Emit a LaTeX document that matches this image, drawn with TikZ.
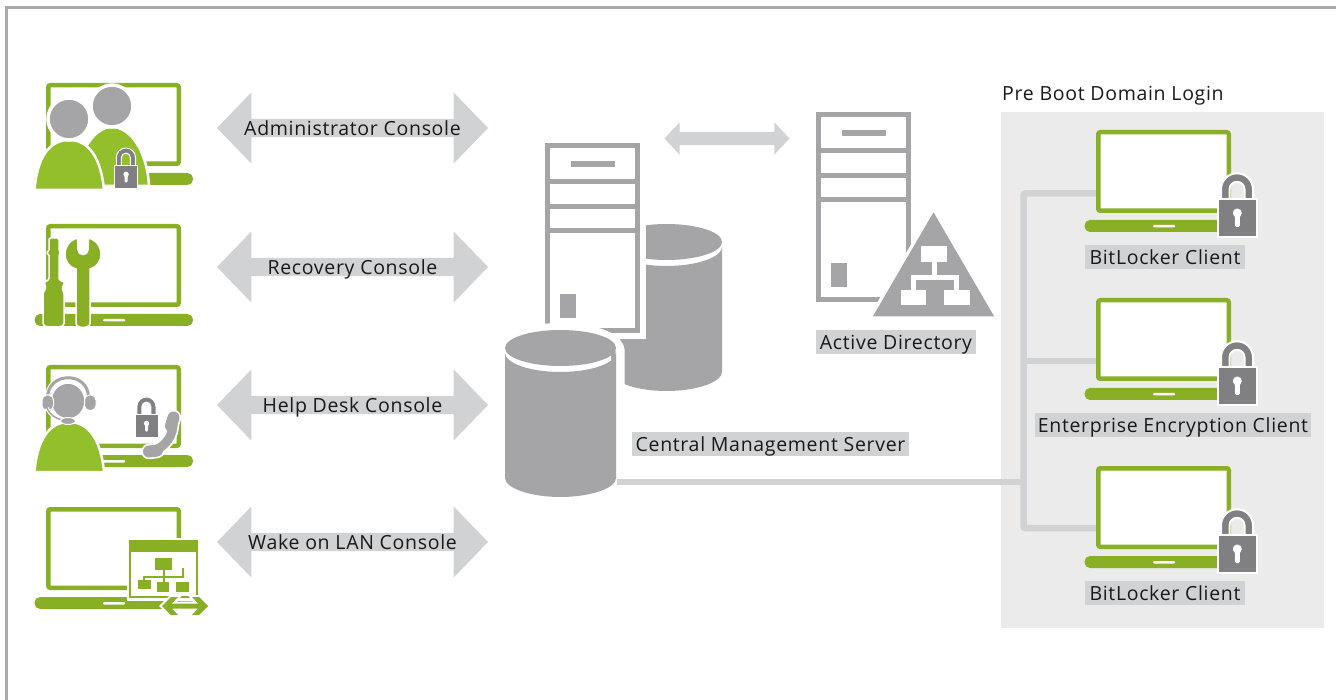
\documentclass[tikz,border=0pt]{standalone}
\usepackage{fontspec}
\setmainfont[LetterSpace=3.5]{Open Sans}
\usetikzlibrary{shapes.arrows}
\definecolor{lapgreen}{HTML}{89B025}
\definecolor{bodygreen}{HTML}{92BF2B}
\definecolor{srvgray}{HTML}{A5A5A8}
\definecolor{lockgray}{HTML}{808083}
\definecolor{linkgray}{HTML}{D1D2D4}
\definecolor{panelgray}{HTML}{EBEBEB}
\definecolor{framegray}{HTML}{A9A9AB}
\tikzset{
	labeltext/.style = {font=\fontsize{19.5}{22}\selectfont, text=black!90, inner sep=0pt, text height=15.5pt, text depth=0.5pt},
	tag/.style = {labeltext, fill=linkgray, minimum height=24pt},
	console/.style = {labeltext, double arrow, fill=linkgray, minimum height=271pt, minimum width=71pt,
		double arrow head extend=23.5pt, double arrow tip angle=92},
	busline/.style = {linkgray, line width=6.5pt, rounded corners=2pt},
	lockedge/.style = {line width=2pt},
	smalllock/.style = {scale=0.6, lockedge/.style={line width=1pt}},
	laptop/.pic = {
		\draw[lapgreen, fill=white, line width=4.5pt, rounded corners=2pt] (2.25,2.25) rectangle (132.75,80.75);
		\fill[lapgreen, rounded corners=5.5pt] (-11.5,90) rectangle (147,102);
		\fill[white, rounded corners=1pt] (57,95) rectangle (79,97.5);
	},
	lock/.pic = {
		\filldraw[draw=white, fill=lockgray, lockedge] (3,1) -- (3,#1) arc[start angle=180, end angle=360, radius=16]
			-- (35,1) -- (26.5,1) -- (26.5,#1) arc[start angle=360, end angle=180, radius=7.5] -- (11.5,1) -- cycle;
		\filldraw[draw=white, fill=lockgray, lockedge] (0,0) rectangle (38.5,38);
		\fill[white] (19.3,14) circle (4.5);
		\fill[white, rounded corners=1.5pt] (16.8,14) rectangle (21.8,28);
	},
	server/.pic = {
		\draw[srvgray, line width=5pt, fill=white] (2.5,2.5) rectangle (92.5,187.5);
		\foreach \y in {38.5,64,87.5}
			\draw[srvgray, line width=5pt] (0,\y) -- (95,\y);
		\fill[srvgray] (26,18) rectangle (70,24);
		\fill[srvgray] (15,151) rectangle (31,175);
	},
	database/.pic = {
		\fill[srvgray] (0,23) -- (0,148) .. controls (0,158) and (25,167) .. (55.5,167) .. controls (86,167) and (111,158) .. (111,148) -- (111,23)
			.. controls (111,33) and (86,42) .. (55.5,42) .. controls (25,42) and (0,33) .. (0,23) -- cycle;
		\fill[srvgray] (55.5,18) ellipse (55.5 and 18);
	},
	bodyshape/.pic = {
		\filldraw[draw=white, fill=bodygreen, line width=2.5pt] (-34.5,50) .. controls (-32,18) and (-20,0) .. (0,0)
			.. controls (20,0) and (32,18) .. (35,50) -- cycle;
	},
}
\begin{document}
\begin{tikzpicture}[x=1pt, y=-1pt]
	\useasboundingbox (0,0) rectangle (1336,700);
	\draw[framegray, line width=2.5pt] (6.5,700) -- (6.5,7.5) -- (1336,7.5);

	\node[console] (admin) at (352.5,128) {Administrator Console};
	\node[console] (recovery) at (352.5,267) {Recovery Console};
	\node[console] (helpdesk) at (352.5,405) {Help Desk Console};
	\node[console] (wakelan) at (352.5,542) {Wake on LAN Console};
	\node[double arrow, fill=linkgray, inner sep=0pt, text height=13pt, text depth=0pt, minimum height=125pt, minimum width=32pt, double arrow head extend=9.5pt, double arrow tip angle=94] (srvlink) at (727,138.5) {};

	\pic at (46,83) {laptop};
	\filldraw[draw=white, fill=bodygreen, line width=2.5pt] (76,186) .. controls (78,150) and (95,127) .. (112,127) .. controls (130,127) and (147,150) .. (149,186) -- cycle;
	\filldraw[draw=white, fill=srvgray, line width=3.5pt] (112,106) circle (21);
	\pic at (69,140) {bodyshape};
	\filldraw[draw=white, fill=srvgray, line width=3.5pt] (69,119) circle (21);
	\pic[smalllock] at (114.5,166) {lock=-14};

	\pic at (46,224) {laptop};
	\filldraw[draw=white, fill=lapgreen, line width=1.5pt, rounded corners=1.5pt] (49,238) -- (59,238) -- (59,251) -- (61,253) -- (59,254) -- (59,280) -- (65,282) -- (62,288) -- (64,293) -- (64,325) -- (60,327) -- (47,327) -- (43,325) -- (43,293) -- (46,288) -- (44,282) -- (49,280) -- (49,254) -- (46,253) -- (49,251) -- cycle;
	\filldraw[draw=white, fill=lapgreen, line width=1.5pt] (77.5,238) .. controls (60,243) and (62,266) .. (76,269) -- (76,323) .. controls (76,329) and (90,329) .. (90,323) -- (90,269)
		.. controls (104,266) and (106,243) .. (88.5,238) -- (88,250) .. controls (88,256) and (78,256) .. (78,250) -- cycle;

	\pic at (46,365) {laptop};
	\pic at (69,422) {bodyshape};
	\draw[white, line width=5pt] (47.5,398) .. controls (47.5,371) and (89,371) .. (88.5,398);
	\draw[srvgray, line width=3pt] (47.5,398) .. controls (47.5,371) and (89,371) .. (88.5,398);
	\filldraw[draw=white, fill=srvgray, line width=2.5pt] (68,401) ellipse (17.5 and 18.5);
	\filldraw[draw=white, fill=srvgray, line width=1pt, rounded corners=5pt] (42,395) rectangle (53.5,410.5);
	\filldraw[draw=white, fill=srvgray, line width=1pt, rounded corners=5pt] (84.5,395) rectangle (96,410.5);
	\draw[white, line width=3.5pt] (47,408) .. controls (50,415) and (56,419) .. (63,420);
	\draw[srvgray, line width=1.5pt] (47,408) .. controls (50,415) and (56,419) .. (63,420);
	\filldraw[draw=white, fill=srvgray, line width=1pt] (68,421) ellipse (7.5 and 3.5);
	\pic[smalllock] at (135,415) {lock=-14};
	\foreach \c/\w in {white/3.5,srvgray/0}{
		\draw[\c, line width=9pt+\w pt] (153,451) .. controls (165,447) and (174,436) .. (173,421);
		\draw[\c, line width=12pt+\w pt, line cap=round] (149,451.5) -- (157,450.5);
		\draw[\c, line width=12pt+\w pt, line cap=round] (173.5,417.5) -- (171,426);
	}

	\pic at (46,507) {laptop};
	\filldraw[draw=white, fill=white, line width=2pt] (128,539) rectangle (199,600);
	\draw[lapgreen, line width=1.5pt] (130,541) rectangle (197,597);
	\fill[lapgreen] (129,540) rectangle (198,552);
	\fill[lapgreen] (155,558) rectangle (172,570);
	\fill[lapgreen] (138,580) rectangle (151,589);
	\fill[lapgreen] (157,582) rectangle (169,592);
	\fill[lapgreen] (176,582) rectangle (189,592);
	\draw[lapgreen, line width=2pt] (163.5,570) -- (163.5,583);
	\draw[lapgreen, line width=2pt] (143.5,580) -- (143.5,577) -- (183,577) -- (183,568);
	\path[preaction={draw=white, line width=4pt}, fill=lapgreen] (162,606) -- (171,597) -- (178,597) -- (172,603.5) -- (198,603.5) -- (192,597) -- (199,597) -- (208,606) -- (199,615) -- (192,615) -- (198,608.5) -- (172,608.5) -- (178,615) -- (171,615) -- cycle;

	\pic at (611,224) {database};
	\fill[white] (542,140) rectangle (646,339);
	\pic at (545,143) {server};
	\draw[white, line width=9pt] (501,350) .. controls (505,320) and (616,320) .. (620,350) -- (620,497);
	\pic at (505,330) {database};
	\node[tag, minimum width=277pt] (cmslabel) at (770.5,444) {Central Management Server};

	\pic at (816,112) {server};
	\filldraw[draw=white, fill=srvgray, line width=3pt, line join=round, rounded corners=3pt] (933.5,209) -- (997,318) -- (870,318) -- cycle;
	\fill[white] (921,246) rectangle (947,262);
	\fill[white] (901,290) rectangle (926,305);
	\fill[white] (944,290) rectangle (970,305);
	\draw[white, line width=5pt] (934.5,262) -- (934.5,277.5);
	\draw[white, line width=5pt] (913.5,290) -- (913.5,277.5) -- (956.5,277.5) -- (956.5,290);
	\node[tag, minimum width=160pt] (adlabel) at (896,342) {Active Directory};

	\fill[panelgray] (1001,112) rectangle (1324,628);
	\node[labeltext, anchor=west] (prelogin) at (1002,93) {Pre Boot Domain Login};

	\coordinate (dbport) at (617,482);
	\coordinate (busjoin) at (1023.5,482);
	\coordinate (clienta) at (1097,193.5);
	\coordinate (clientb) at (1097,361);
	\coordinate (clientc) at (1097,528);
	\draw[busline] (dbport) -- (busjoin);
	\draw[busline] (clienta) -| (busjoin);
	\draw[busline] (clientb) -- (clientb -| busjoin);
	\draw[busline] (clientc) -| (busjoin);

	\foreach \t in {130,298,466}{
		\pic at (1096,\t) {laptop};
		\pic at (1218,\t+69) {lock=-9.7};
	}
	\node[tag, minimum width=160pt] (bitlockera) at (1165,257) {BitLocker Client};
	\node[tag, minimum width=276pt] (enterprise) at (1173,425) {Enterprise Encryption Client};
	\node[tag, minimum width=160pt] (bitlockerb) at (1165,593) {BitLocker Client};
\end{tikzpicture}
\end{document}
